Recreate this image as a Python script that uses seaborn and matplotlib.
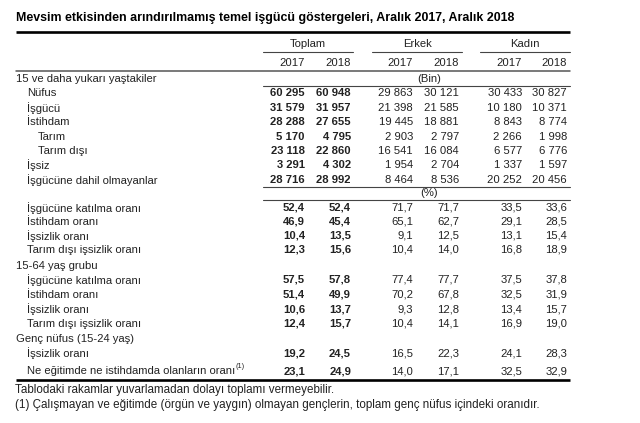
import matplotlib
matplotlib.use("Agg")
import matplotlib.pyplot as plt
import seaborn as sns

sns.set_theme(style="white")
plt.rcParams['font.family'] = ['Liberation Sans', 'DejaVu Sans']

title = "Mevsim etkisinden arındırılmamış temel işgücü göstergeleri, Aralık 2017, Aralık 2018"
groups = ["Toplam", "Erkek", "Kadın"]
years = ["2017", "2018"]

# (Bin) section
bin_labels = ["Nüfus", "İşgücü", "İstihdam", "Tarım", "Tarım dışı", "İşsiz",
              "İşgücüne dahil olmayanlar"]
bin_indent = [1, 1, 1, 2, 2, 1, 1]
toplam_2017 = [60295, 31579, 28288, 5170, 23118, 3291, 28716]
toplam_2018 = [60948, 31957, 27655, 4795, 22860, 4302, 28992]
erkek_2017 = [29863, 21398, 19445, 2903, 16541, 1954, 8464]
erkek_2018 = [30121, 21585, 18881, 2797, 16084, 2704, 8536]
kadin_2017 = [30433, 10180, 8843, 2266, 6577, 1337, 20252]
kadin_2018 = [30827, 10371, 8774, 1998, 6776, 1597, 20456]

# (%) section
rate_labels = ["İşgücüne katılma oranı", "İstihdam oranı", "İşsizlik oranı",
               "Tarım dışı işsizlik oranı"]
pct_15plus = [[52.4, 52.4, 71.7, 71.7, 33.5, 33.6],
              [46.9, 45.4, 65.1, 62.7, 29.1, 28.5],
              [10.4, 13.5, 9.1, 12.5, 13.1, 15.4],
              [12.3, 15.6, 10.4, 14.0, 16.8, 18.9]]
pct_1564 = [[57.5, 57.8, 77.4, 77.7, 37.5, 37.8],
            [51.4, 49.9, 70.2, 67.8, 32.5, 31.9],
            [10.6, 13.7, 9.3, 12.8, 13.4, 15.7],
            [12.4, 15.7, 10.4, 14.1, 16.9, 19.0]]
youth_labels = ["İşsizlik oranı", "Ne eğitimde ne istihdamda olanların oranı"]
pct_youth = [[19.2, 24.5, 16.5, 22.3, 24.1, 28.3],
             [23.1, 24.9, 14.0, 17.1, 32.5, 32.9]]

note1 = "Tablodaki rakamlar yuvarlamadan dolayı toplamı vermeyebilir."
note2 = "(1) Çalışmayan ve eğitimde (örgün ve yaygın) olmayan gençlerin, toplam genç nüfus içindeki oranıdır."

fig = plt.figure(figsize=(6.4, 4.23), dpi=100)
ax = fig.add_axes([0, 0, 1, 1])
ax.set_xlim(0, 640)
ax.set_ylim(423, 0)
ax.axis("off")

TXT = "#222222"
FS = 8.1
col_x = [305, 351, 413, 459, 522, 567]
grp_span = [(263, 353), (372, 462), (480, 570)]
x_sec, x_item, x_sub = 16, 27, 38


def fmt_int(v):
    return f"{v:,}".replace(",", " ")


def fmt_pct(v):
    return f"{v:.1f}".replace(".", ",")


def label(y, s, x, fs=FS):
    return ax.text(x, y, s, fontsize=fs, color=TXT, va="center", ha="left")


def values(y, vals, fmt):
    for i, v in enumerate(vals):
        ax.text(col_x[i], y, fmt(v), fontsize=FS, color=TXT, va="center",
                ha="right", fontweight="bold" if i < 2 else "normal")


# title and header
ax.text(16, 18, title, fontsize=8.9, fontweight="bold", color="black",
        va="center", ha="left")
ax.plot([16, 570], [32, 32], color="black", lw=1.9, solid_capstyle="butt")
for g, (a, b) in zip(groups, grp_span):
    ax.text((a + b) / 2, 44, g, fontsize=FS, color=TXT, va="center", ha="center")
    ax.plot([a, b], [52, 52], color="#444444", lw=0.8)
for i in range(6):
    ax.text(col_x[i], 63, years[i % 2], fontsize=FS, color=TXT, va="center", ha="right")
ax.plot([16, 570], [71, 71], color="#555555", lw=1.1)

# Bin section
label(79, "15 ve daha yukarı yaştakiler", x_sec)
ax.text(429, 79, "(Bin)", fontsize=FS, color=TXT, va="center", ha="center")
ax.plot([263, 570], [86, 86], color="#444444", lw=0.8)
ys_bin = [93.5, 108, 122, 136.5, 151, 165, 180]
for j, y in enumerate(ys_bin):
    label(y, bin_labels[j], x_item if bin_indent[j] == 1 else x_sub)
    values(y, [toplam_2017[j], toplam_2018[j], erkek_2017[j], erkek_2018[j],
               kadin_2017[j], kadin_2018[j]], fmt_int)
ax.plot([263, 570], [187, 187], color="#444444", lw=0.8)

# percent section
ax.text(429, 193, "(%)", fontsize=FS, color=TXT, va="center", ha="center")
ax.plot([263, 570], [200, 200], color="#444444", lw=0.8)
for j, y in enumerate([208, 222, 236, 250]):
    label(y, rate_labels[j], x_item)
    values(y, pct_15plus[j], fmt_pct)

label(266, "15-64 yaş grubu", x_sec)
for j, y in enumerate([280, 294.5, 309, 324]):
    label(y, rate_labels[j], x_item)
    values(y, pct_1564[j], fmt_pct)

label(339, "Genç nüfus (15-24 yaş)", x_sec)
for j, y in enumerate([353.5, 371]):
    t = label(y, youth_labels[j], x_item)
    values(y, pct_youth[j], fmt_pct)
fig.canvas.draw()
bb = t.get_window_extent().transformed(ax.transData.inverted())
ax.text(bb.x1 + 0.5, 367, "(1)", fontsize=5.2, color=TXT, va="center", ha="left")

ax.plot([16, 570], [380, 380], color="black", lw=1.9, solid_capstyle="butt")
label(389.5, note1, 15, 8.4)
label(405, note2, 15, 8.4)

fig.savefig("out.png", dpi=100, facecolor="white")
